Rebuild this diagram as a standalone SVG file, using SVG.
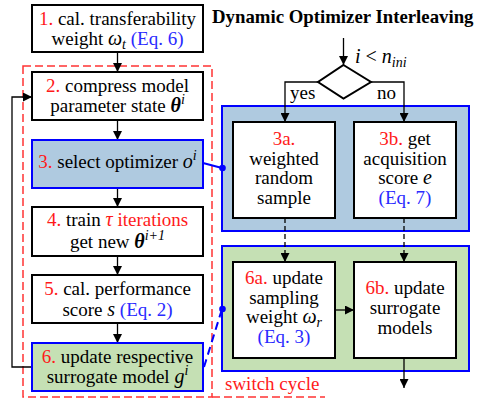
<svg xmlns="http://www.w3.org/2000/svg" width="479" height="401" viewBox="0 0 479 401" font-family="'Liberation Serif', 'DejaVu Serif', serif">
  <defs>
    <marker id="arr" viewBox="0 0 10 10" refX="10" refY="5" markerWidth="9" markerHeight="9" markerUnits="userSpaceOnUse" orient="auto">
      <path d="M0,0 L10,5 L0,10 z" fill="#000"/>
    </marker>
    <style>
      text { font-family: 'Liberation Serif', 'DejaVu Serif', serif; font-size: 19px; fill: #000; text-anchor: middle; }
      .title { font-weight: bold; font-size: 18.8px; text-anchor: start; }
      .r { fill: #ff1a1a; }
      .b { fill: #2a2aff; }
      .m { font-style: italic; font-size: 20px; }
      .bm { font-style: italic; font-weight: bold; font-size: 20px; }
      .s { font-size: 14px; font-style: italic; }
      .box { fill: #fff; stroke: #000; stroke-width: 2; }
      .bluebox { fill: #afcae0; stroke: #0000ff; stroke-width: 2; }
      .greenbox { fill: #c5e0b4; stroke: #0000ff; stroke-width: 2; }
      .line { fill: none; stroke: #000; stroke-width: 1.3; }
      .dash { fill: none; stroke: #000; stroke-width: 1.3; stroke-dasharray: 5 3; }
      .region { fill: none; stroke: #ff3333; stroke-width: 1.5; stroke-dasharray: 8 4; }
    </style>
  </defs>

  <!-- switch cycle region -->
  <g id="switch-cycle">
    <rect class="region" x="23" y="66" width="189" height="331"/>
    <line class="region" x1="212" y1="397" x2="325" y2="397"/>
    <text x="225" y="390" class="r" style="text-anchor:start">switch cycle</text>
  </g>

  <!-- right-hand panels -->
  <g id="panel-select">
    <rect class="bluebox" x="222" y="106" width="247" height="125"/>
  </g>
  <g id="panel-update">
    <rect class="greenbox" x="222" y="246" width="247" height="125"/>
  </g>

  <text class="title" x="212" y="23">Dynamic Optimizer Interleaving</text>

  <!-- connectors -->
  <g id="connectors">
    <line class="line" x1="117.5" y1="52" x2="117.5" y2="72" marker-end="url(#arr)"/>
    <line class="line" x1="117.5" y1="120" x2="117.5" y2="140" marker-end="url(#arr)"/>
    <line class="line" x1="117.5" y1="188" x2="117.5" y2="207" marker-end="url(#arr)"/>
    <line class="line" x1="117.5" y1="256" x2="117.5" y2="275" marker-end="url(#arr)"/>
    <line class="line" x1="117.5" y1="323" x2="117.5" y2="343" marker-end="url(#arr)"/>
    <polyline class="line" points="32,367 12,367 12,97 32,97" marker-end="url(#arr)"/>

    <line class="line" x1="343.5" y1="38" x2="343.5" y2="65" marker-end="url(#arr)"/>
    <polyline class="line" points="318,82 285,82 285,122" marker-end="url(#arr)"/>
    <polyline class="line" points="371,82 404,82 404,122" marker-end="url(#arr)"/>
    <line class="dash" x1="285" y1="218" x2="285" y2="262" marker-end="url(#arr)"/>
    <line class="dash" x1="404" y1="218" x2="404" y2="262" marker-end="url(#arr)"/>
    <line class="line" x1="335" y1="310" x2="354" y2="310" marker-end="url(#arr)"/>
    <line class="line" x1="404" y1="358" x2="404" y2="388" marker-end="url(#arr)"/>

    <line x1="203" y1="163" x2="222" y2="168" stroke="#0000ff" stroke-width="2"/>
    <circle cx="222.5" cy="168" r="3.3" fill="#0000ff"/>
    <line x1="204" y1="367" x2="222" y2="309" stroke="#0000ff" stroke-width="2" stroke-dasharray="8 5"/>
    <circle cx="222.5" cy="309" r="3.3" fill="#0000ff"/>

    <text x="290" y="99" style="text-anchor:start">yes</text>
    <text x="377" y="99" style="text-anchor:start">no</text>
    <text x="355" y="63" style="text-anchor:start; font-size:20px"><tspan class="m">i</tspan> &lt; <tspan class="m">n</tspan><tspan class="s" dy="4">ini</tspan></text>
  </g>

  <!-- step 1 -->
  <g id="n1">
    <rect class="box" x="32" y="5" width="171" height="47"/>
    <text x="117.5" y="25"><tspan class="r">1.</tspan> cal. transferability</text>
    <text x="117.5" y="45">weight <tspan class="m">ω</tspan><tspan class="s" dy="4">t</tspan><tspan dy="-4"> </tspan><tspan class="b">(Eq. 6)</tspan></text>
  </g>

  <!-- step 2 -->
  <g id="n2">
    <rect class="box" x="32" y="72" width="171" height="48"/>
    <text x="117.5" y="92"><tspan class="r">2.</tspan> compress model</text>
    <text x="117.5" y="112">parameter state <tspan class="bm">θ</tspan><tspan class="s" dy="-8">i</tspan></text>
  </g>

  <!-- step 3 -->
  <g id="n3">
    <rect class="bluebox" x="32" y="140" width="171" height="48"/>
    <text x="117.5" y="168"><tspan class="r">3.</tspan> select optimizer <tspan class="m">o</tspan><tspan class="s" dy="-8">i</tspan></text>
  </g>

  <!-- step 4 -->
  <g id="n4">
    <rect class="box" x="32" y="207" width="171" height="49"/>
    <text x="117.5" y="226"><tspan class="r">4.</tspan> train <tspan class="r m">τ</tspan><tspan class="r"> iterations</tspan></text>
    <text x="117.5" y="248">get new <tspan class="bm">θ</tspan><tspan class="s" dy="-8">i+1</tspan></text>
  </g>

  <!-- step 5 -->
  <g id="n5">
    <rect class="box" x="32" y="275" width="171" height="48"/>
    <text x="117.5" y="295"><tspan class="r">5.</tspan> cal. performance</text>
    <text x="117.5" y="316">score <tspan class="m">s</tspan> <tspan class="b">(Eq. 2)</tspan></text>
  </g>

  <!-- step 6 -->
  <g id="n6">
    <rect class="greenbox" x="32" y="343" width="171" height="48"/>
    <text x="117.5" y="363"><tspan class="r">6.</tspan> update respective</text>
    <text x="117.5" y="383">surrogate model <tspan class="m">g</tspan><tspan class="s" dy="-8">i</tspan></text>
  </g>

  <!-- decision -->
  <g id="decision">
    <polygon points="343.5,65 371,82 343.5,98.5 318,82" fill="#fff" stroke="#000" stroke-width="2"/>
  </g>

  <!-- step 3a -->
  <g id="n3a">
    <rect class="box" x="233" y="122" width="102" height="96"/>
    <text x="284" y="145" class="r">3a.</text>
    <text x="284" y="164.5">weighted</text>
    <text x="284" y="184">random</text>
    <text x="284" y="203.5">sample</text>
  </g>

  <!-- step 3b -->
  <g id="n3b">
    <rect class="box" x="354" y="122" width="102" height="96"/>
    <text x="405" y="145"><tspan class="r">3b.</tspan> get</text>
    <text x="405" y="164.5">acquisition</text>
    <text x="405" y="184">score <tspan class="m">e</tspan></text>
    <text x="405" y="203.5" class="b">(Eq. 7)</text>
  </g>

  <!-- step 6a -->
  <g id="n6a">
    <rect class="box" x="233" y="262" width="102" height="96"/>
    <text x="284" y="284"><tspan class="r">6a.</tspan> update</text>
    <text x="284" y="303.5">sampling</text>
    <text x="284" y="323">weight <tspan class="m">ω</tspan><tspan class="s" dy="4">r</tspan></text>
    <text x="284" y="343" class="b">(Eq. 3)</text>
  </g>

  <!-- step 6b -->
  <g id="n6b">
    <rect class="box" x="354" y="262" width="102" height="96"/>
    <text x="405" y="294"><tspan class="r">6b.</tspan> update</text>
    <text x="405" y="314">surrogate</text>
    <text x="405" y="334">models</text>
  </g>
</svg>
